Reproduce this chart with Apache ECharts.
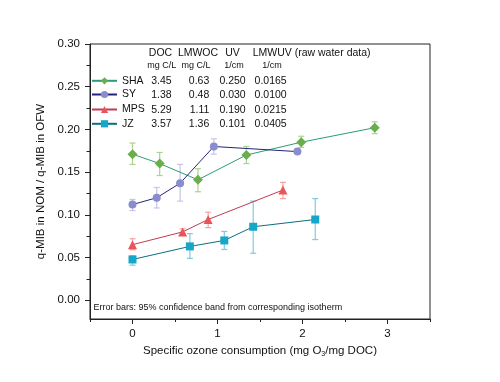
<!DOCTYPE html>
<html><head><meta charset="utf-8">
<script src="https://cdn.jsdelivr.net/npm/echarts@6/dist/echarts.min.js"></script>
<style>html,body{margin:0;padding:0;background:#fff}#c{width:500px;height:382px}</style>
</head><body><div id="c"></div>
<script>
// ---- data ----
const seriesNames = ['SHA', 'SY', 'MPS', 'JZ'];
const shaX = [0, 0.32, 0.77, 1.34, 1.985, 2.85];
const shaY = [0.171, 0.160, 0.141, 0.170, 0.185, 0.202];
const shaLo = [0.159, 0.146, 0.127, 0.160, 0.179, 0.195];
const shaHi = [0.184, 0.173, 0.154, 0.180, 0.192, 0.209];
const syX = [0, 0.285, 0.56, 0.957, 1.94];
const syY = [0.112, 0.120, 0.137, 0.180, 0.174];
const syLo = [0.105, 0.108, 0.116, 0.171, 0.172];
const syHi = [0.118, 0.132, 0.159, 0.189, 0.176];
const mpsX = [0, 0.59, 0.89, 1.77];
const mpsY = [0.065, 0.080, 0.0945, 0.129];
const mpsLo = [0.059, 0.0758, 0.085, 0.119];
const mpsHi = [0.072, 0.0836, 0.103, 0.138];
const jzX = [0, 0.675, 1.08, 1.42, 2.15];
const jzY = [0.0477, 0.063, 0.070, 0.086, 0.0945];
const jzLo = [0.041, 0.049, 0.0594, 0.055, 0.071];
const jzHi = [0.052, 0.078, 0.0805, 0.116, 0.119];
const yTickLabels = [0, 0.05, 0.10, 0.15, 0.20, 0.25, 0.30];
const yMinorTicks = [0.025, 0.075, 0.125, 0.175, 0.225, 0.275];
const xTickLabels = [0, 1, 2, 3];
const xMinorTicks = [-0.5, 0.5, 1.5, 2.5, 3.5];
const tableHeads = ['DOC', 'LMWOC', 'UV', 'LMWUV (raw water data)'];
const tableUnits = ['mg C/L', 'mg C/L', '1/cm', '1/cm'];
const docVals = ['3.45', '1.38', '5.29', '3.57'];
const lmwocVals = ['0.63', '0.48', '1.11', '1.36'];
const uvVals = ['0.250', '0.030', '0.190', '0.101'];
const lmwuvVals = ['0.0165', '0.0100', '0.0215', '0.0405'];
const noteText = 'Error bars: 95% confidence band from corresponding isotherm';

// ---- styles ----
const FONT = '"Liberation Sans", Arial, sans-serif';
const styles = [
  {line: '#2a9c78', mark: '#6aae4c', err: '#a9d38f', symbol: 'diamond', size: 10},
  {line: '#23237f', mark: '#8a8cce', err: '#c4c5e8', symbol: 'circle', size: 8},
  {line: '#c23a50', mark: '#e8565a', err: '#f3a2a2', symbol: 'triangle', size: 9},
  {line: '#0b6e80', mark: '#16a7c8', err: '#7fcbdc', symbol: 'rect', size: 8}
];
const xs = [shaX, syX, mpsX, jzX], ys = [shaY, syY, mpsY, jzY];
const los = [shaLo, syLo, mpsLo, jzLo], his = [shaHi, syHi, mpsHi, jzHi];

const series = [];
seriesNames.forEach((n, i) => {
  const st = styles[i];
  series.push({
    name: n + ' err', type: 'custom', z: 1,
    data: xs[i].map((x, k) => [x, los[i][k], his[i][k]]),
    encode: {x: 0, y: [1, 2]},
    renderItem: (params, api) => {
      const x = api.value(0);
      const p1 = api.coord([x, api.value(2)]);
      const p2 = api.coord([x, api.value(1)]);
      const w = 3;
      const s = {stroke: st.err, lineWidth: 1.2};
      return {type: 'group', children: [
        {type: 'line', shape: {x1: p1[0], y1: p1[1], x2: p2[0], y2: p2[1]}, style: s},
        {type: 'line', shape: {x1: p1[0] - w, y1: p1[1], x2: p1[0] + w, y2: p1[1]}, style: s},
        {type: 'line', shape: {x1: p2[0] - w, y1: p2[1], x2: p2[0] + w, y2: p2[1]}, style: s}
      ]};
    }
  });
  series.push({
    name: n, type: 'line', z: 3,
    data: xs[i].map((x, k) => [x, ys[i][k]]),
    symbol: st.symbol, symbolSize: st.size,
    lineStyle: {color: st.line, width: 1},
    itemStyle: {color: st.mark, borderWidth: 0},
    emphasis: {disabled: true}
  });
});

const rowY = [81.3, 95, 110, 124.3];
const legends = seriesNames.map((n, i) => ({
  data: [n], left: 91, top: rowY[i] - 6, orient: 'vertical', padding: 0,
  itemWidth: 25, itemHeight: 9, itemGap: 0, selectedMode: false,
  textStyle: {fontFamily: FONT, fontSize: 10.5, color: '#111'}
}));

const graphics = [];
const headCx = [160.5, 198, 232.5, 252.7];
tableHeads.forEach((t, j) => graphics.push({type: 'text', x: headCx[j], y: 52.7,
  style: {text: t, font: '10.5px ' + FONT, fill: '#111', align: j === 3 ? 'left' : 'center', verticalAlign: 'middle'}}));
const unitCx = [161.7, 196, 234, 272];
tableUnits.forEach((t, j) => graphics.push({type: 'text', x: unitCx[j], y: 66,
  style: {text: t, font: '9px ' + FONT, fill: '#111', align: 'center', verticalAlign: 'middle'}}));
const colRight = [171.7, 209.3, 245.7, 286.7];
[docVals, lmwocVals, uvVals, lmwuvVals].forEach((col, j) => col.forEach((v, i) => graphics.push({
  type: 'text', x: colRight[j], y: rowY[i],
  style: {text: v, font: '10.5px ' + FONT, fill: '#111', align: 'right', verticalAlign: 'middle'}})));
graphics.push({type: 'text', x: 93.5, y: 307.5,
  style: {text: noteText, font: '9px ' + FONT, fill: '#111', align: 'left', verticalAlign: 'middle'}});

const axisLineStyle = {color: '#222', width: 1};
const option = {
  animation: false,
  backgroundColor: '#fff',
  grid: {left: 90, right: 70, top: 44, bottom: 63, show: true, borderColor: '#222', borderWidth: 1, containLabel: false},
  legend: legends,
  xAxis: [{
    type: 'value', min: -0.5, max: 3.5, interval: 0.5, position: 'bottom',
    axisLine: {show: true, onZero: false, lineStyle: axisLineStyle},
    axisTick: {show: true, length: 5, inside: false, customValues: xTickLabels, lineStyle: axisLineStyle},
    axisLabel: {customValues: xTickLabels, margin: 9, fontFamily: FONT, fontSize: 11.5, color: '#111'},
    splitLine: {show: false},
    name: '{a|Specific ozone consumption (mg O}{s|3}{a|/mg DOC)}',
    nameLocation: 'middle', nameGap: 17,
    nameTextStyle: {fontFamily: FONT, fontSize: 11.5, color: '#111',
      rich: {a: {fontFamily: FONT, fontSize: 11.5, color: '#111'},
             s: {fontFamily: FONT, fontSize: 7, color: '#111', verticalAlign: 'bottom', padding: [6, 0, 0, 0]}}}
  }, {
    type: 'value', min: -0.5, max: 3.5, interval: 0.5, position: 'bottom',
    axisLine: {show: false, onZero: false},
    axisTick: {show: true, length: 3, customValues: xMinorTicks, lineStyle: axisLineStyle},
    axisLabel: {show: false}, splitLine: {show: false}
  }],
  yAxis: [{
    type: 'value', min: -0.022, max: 0.30, position: 'left',
    axisLine: {show: true, onZero: false, lineStyle: axisLineStyle},
    axisTick: {show: true, length: 5, customValues: yTickLabels, lineStyle: axisLineStyle},
    axisLabel: {customValues: yTickLabels, margin: 10, fontFamily: FONT, fontSize: 11.5, color: '#111',
      formatter: v => v.toFixed(2)},
    splitLine: {show: false},
    name: 'q-MIB in NOM / q-MIB in OFW', nameLocation: 'middle', nameGap: 40, nameRotate: 90,
    nameTextStyle: {fontFamily: FONT, fontSize: 11.5, color: '#111'}
  }, {
    type: 'value', min: -0.022, max: 0.30, position: 'left',
    axisLine: {show: false, onZero: false},
    axisTick: {show: true, length: 3.5, customValues: yMinorTicks, lineStyle: axisLineStyle},
    axisLabel: {show: false}, splitLine: {show: false}
  }],
  graphic: graphics,
  series: series
};
const chart = echarts.init(document.getElementById('c'), null, {renderer: 'canvas'});
chart.setOption(option);
</script>
</body></html>
